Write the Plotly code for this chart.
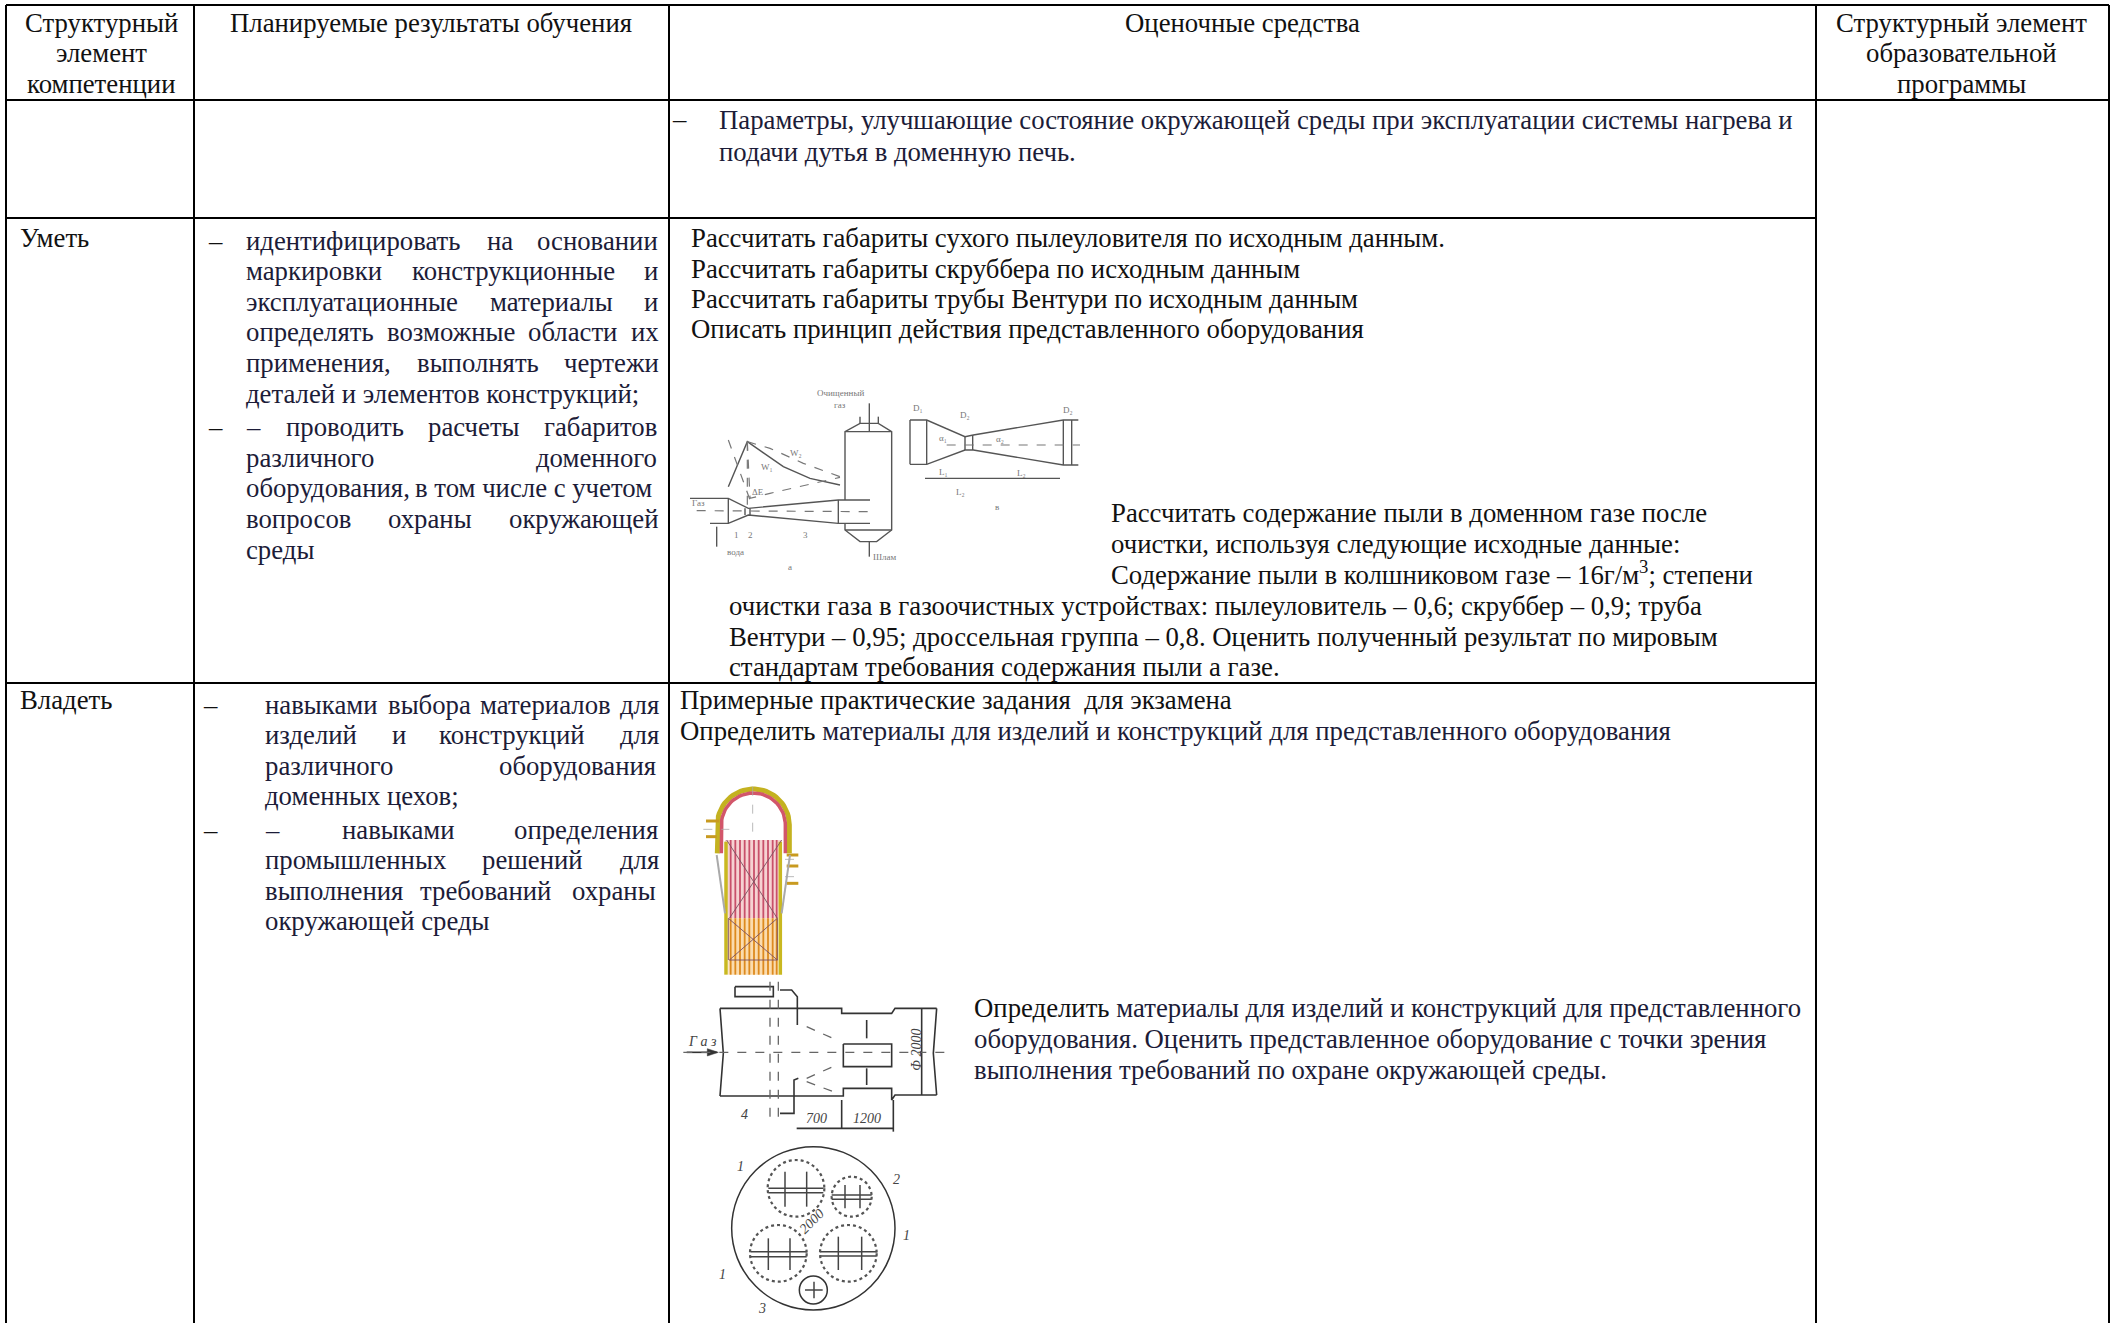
import plotly.graph_objects as go
import numpy as np

FONT = "Liberation Serif"
SIZE = 26.75
BLACK = "#111111"
NAVY = "#1c1c38"

# ---- table grid -------------------------------------------------------
COL_X = [6, 194, 669, 1816, 2109]
ROW_Y = [5, 100, 218, 683, 1323]

# ---- header -----------------------------------------------------------
HEAD_X = [101, 101, 101, 431, 1242, 1961, 1961, 1961]
HEAD_Y = [23, 53, 84, 23, 23, 23, 53, 84]
HEAD_T = ["Структурный", "элемент", "компетенции",
          "Планируемые результаты обучения", "Оценочные средства",
          "Структурный элемент", "образовательной", "программы"]

# ---- left aligned body words / lines ----------------------------------
BODY = [
    (20, 238, "Уметь", BLACK), (20, 700, "Владеть", BLACK),
    (672, 119, "–", BLACK),
    (719, 120, "Параметры, улучшающие состояние окружающей среды при эксплуатации системы нагрева и", NAVY),
    (719, 152, "подачи дутья в доменную печь.", NAVY),
    (691, 238, "Рассчитать габариты сухого пылеуловителя по исходным данным.", BLACK),
    (691, 269, "Рассчитать габариты скруббера по исходным данным", BLACK),
    (691, 299, "Рассчитать габариты трубы Вентури по исходным данным", BLACK),
    (691, 329, "Описать принцип действия представленного оборудования", BLACK),
    (1111, 513, "Рассчитать содержание пыли в доменном газе после", BLACK),
    (1111, 544, "очистки, используя следующие исходные данные:", BLACK),
    (1111, 573, "Содержание пыли в колшниковом газе – 16г/м<sup>3</sup>; степени", BLACK),
    (729, 606, "очистки газа в газоочистных устройствах: пылеуловитель – 0,6; скруббер – 0,9; труба", BLACK),
    (729, 637, "Вентури – 0,95; дроссельная группа – 0,8. Оценить полученный результат по мировым", BLACK),
    (729, 667, "стандартам требования содержания пыли а газе.", BLACK),
    (680, 700, "Примерные практические задания  для экзамена", BLACK),
    (680, 731, "Определить <span style='color:#1c1c38'>материалы для изделий и конструкций для представленного оборудования</span>", BLACK),
    (974, 1008, "Определить <span style='color:#1c1c38'>материалы для изделий и конструкций для представленного</span>", BLACK),
    (974, 1039, "оборудования. Оценить представленное оборудование с точки зрения", NAVY),
    (974, 1070, "выполнения требований по охране окружающей среды.", NAVY),
    # column 2, row "Уметь" (justified words)
    (208, 241, "–", BLACK),
    (246, 241, "идентифицировать", NAVY), (487, 241, "на", NAVY), (537, 241, "основании", NAVY),
    (246, 271, "маркировки", NAVY), (412, 271, "конструкционные", NAVY), (644, 271, "и", NAVY),
    (246, 302, "эксплуатационные", NAVY), (490, 302, "материалы", NAVY), (644, 302, "и", NAVY),
    (246, 332, "определять", NAVY), (387, 332, "возможные", NAVY), (528, 332, "области", NAVY), (631, 332, "их", NAVY),
    (246, 363, "применения,", NAVY), (417, 363, "выполнять", NAVY), (564, 363, "чертежи", NAVY),
    (246, 394, "деталей и элементов конструкций;", NAVY),
    (208, 427, "–", BLACK),
    (246, 427, "–", NAVY), (286, 427, "проводить", NAVY), (428, 427, "расчеты", NAVY), (544, 427, "габаритов", NAVY),
    (246, 458, "различного", NAVY), (536, 458, "доменного", NAVY),
    (246, 488, "оборудования,", NAVY), (415.5, 488, "в том числе с учетом", NAVY),
    (246, 519, "вопросов", NAVY), (388, 519, "охраны", NAVY), (509, 519, "окружающей", NAVY),
    (246, 550, "среды", NAVY),
    # column 2, row "Владеть"
    (203, 705, "–", BLACK),
    (265, 705, "навыками", NAVY), (388, 705, "выбора", NAVY), (480, 705, "материалов", NAVY), (620, 705, "для", NAVY),
    (265, 735, "изделий", NAVY), (392, 735, "и", NAVY), (439, 735, "конструкций", NAVY), (620, 735, "для", NAVY),
    (265, 766, "различного", NAVY), (499, 766, "оборудования", NAVY),
    (265, 796, "доменных цехов;", NAVY),
    (203, 830, "–", BLACK),
    (265, 830, "–", NAVY), (342, 830, "навыками", NAVY), (514, 830, "определения", NAVY),
    (265, 860, "промышленных", NAVY), (482, 860, "решений", NAVY), (620, 860, "для", NAVY),
    (265, 891, "выполнения", NAVY), (420, 891, "требований", NAVY), (572, 891, "охраны", NAVY),
    (265, 921, "окружающей среды", NAVY),
]
BODY_SHIFT = -1.5

# ---- sketch 1: scrubber and Venturi tube (crop coords of 670,360, x3) --
SK1_LINES = [
    [(60, 415), (175, 415), (235, 445), (505, 420), (600, 420)],
    [(120, 490), (175, 490), (235, 465), (505, 490), (600, 490)],
    [(175, 415), (175, 490)], [(225, 445), (225, 465)], [(240, 445), (240, 465)],
    [(505, 420), (505, 490)],
    [(525, 420), (525, 215), (570, 190), (625, 190), (665, 215), (665, 510), (620, 545), (570, 545), (525, 510), (525, 490)],
    [(525, 215), (665, 215)], [(525, 510), (665, 510)],
    [(598, 130), (598, 215)], [(598, 545), (598, 590)],
    [(570, 190), (570, 170)], [(625, 190), (625, 170)],
    [(175, 380), (232, 245), (275, 275), (340, 320), (420, 355), (510, 375)],
    [(140, 500), (140, 560)],
    [(720, 180), (770, 180), (885, 230), (910, 225), (1180, 180), (1225, 180)],
    [(720, 313), (770, 313), (885, 270), (910, 270), (1180, 315), (1225, 315)],
    [(720, 180), (720, 313)], [(770, 180), (770, 313)], [(885, 230), (885, 270)],
    [(908, 225), (908, 270)], [(1180, 180), (1180, 315)], [(1205, 180), (1205, 315)],
    [(765, 355), (1170, 355)],
]
SK1_DASH = [
    [(80, 452), (600, 455)],
    [(232, 245), (300, 265), (400, 310), (510, 350)],
    [(232, 245), (240, 415), (300, 400), (510, 352)],
    [(175, 240), (240, 420)], [(232, 245), (232, 445)],
    [(830, 255), (1230, 255)],
]
SK1_TEXT = [(85, 430, "Газ"), (510, 100, "Очищенный"), (510, 135, "газ"),
            (195, 575, "вода"), (645, 590, "Шлам"), (378, 280, "W₂"), (290, 320, "W₁"),
            (265, 395, "ΔE"), (200, 525, "1"), (242, 525, "2"), (405, 525, "3"),
            (360, 620, "а"), (980, 440, "в"), (745, 145, "D₁"), (885, 165, "D₂"),
            (1195, 150, "D₂"), (820, 235, "α₁"), (990, 238, "α₂"), (820, 335, "L₁"),
            (1055, 340, "L₂"), (872, 395, "L₂")]

# ---- sketch 2: coloured stove (crop coords of 670,770, x3) -------------
ST_PINK_BOX = [(165, 210), (335, 210), (325, 445), (175, 445)]
ST_ORANGE_BOX = [(175, 445), (325, 445), (325, 614), (175, 614)]
ST_STRIPE_X = [182, 196, 210, 224, 238, 252, 266, 280, 294, 308, 320]
ST_STRIPE_TOP = [210, 445]
ST_STRIPE_LOW = [445, 614]
ST_WALL_L = [(168, 215), (168, 614)]
ST_WALL_R = [(331, 215), (331, 614)]
ST_CROSS = [[(170, 210), (322, 445)], [(335, 210), (178, 445)],
            [(175, 445), (322, 570)], [(322, 445), (178, 570)],
            [(178, 570), (322, 570)], [(175, 445), (175, 570)], [(322, 445), (322, 570)]]
ST_DOME_CENTER = (250, 165)
ST_DOME_R_OUT = 108
ST_DOME_R_IN = 96
ST_DOME_FOOT = 250
ST_NOZZLES = [[(108, 153), (148, 153)], [(108, 200), (140, 200)], [(350, 255), (385, 255)],
              [(350, 288), (385, 288)], [(350, 340), (385, 340)]]
ST_CONE = [[(140, 255), (165, 430)], [(360, 255), (335, 430)]]
ST_CENTER = [[(248, 50), (248, 210)], [(100, 178), (178, 178)], [(345, 268), (392, 268)], [(345, 320), (392, 320)]]

# ---- sketch 3: burners section + plan (crop coords of 670,970, x3) -----
SK3_LINES = [
    [(150, 115), (515, 115), (515, 130), (665, 130), (675, 115), (800, 115)],
    [(150, 378), (520, 378), (520, 355), (665, 355), (665, 390), (675, 375), (800, 375)],
    [(150, 115), (160, 250), (150, 378)], [(800, 115), (790, 250), (800, 375)],
    [(520, 222), (665, 222), (665, 290), (520, 290), (520, 222)],
    [(195, 50), (310, 50), (310, 80), (195, 80), (195, 50)],
    [(330, 60), (365, 60), (382, 80), (382, 165)], [(385, 325), (372, 330), (372, 430), (330, 430)],
    [(755, 115), (755, 375)], [(380, 475), (670, 475)], [(515, 390), (515, 475)], [(670, 390), (670, 485)],
    [(50, 247), (140, 247)], [(590, 150), (590, 205)], [(590, 295), (590, 345)],
]
SK3_ARROW = [(112, 236), (145, 247), (112, 258)]
SK3_DASH = [[(40, 247), (830, 247)], [(300, 35), (300, 440)], [(325, 35), (325, 440)],
            [(410, 170), (500, 210)], [(410, 325), (500, 285)], [(410, 335), (490, 365)]]
SK3_TEXT = [(97, 215, "<i>Г а з</i>", 0), (737, 240, "<i>Φ 2000</i>", -90), (440, 445, "<i>700</i>", 0),
            (590, 445, "<i>1200</i>", 0), (222, 432, "<i>4</i>", 0), (210, 590, "<i>1</i>", 0), (680, 628, "<i>2</i>", 0),
            (708, 795, "<i>1</i>", 0), (158, 912, "<i>1</i>", 0), (275, 1015, "<i>3</i>", 0), (425, 755, "<i>2000</i>", -45)]
PLAN_CX = [430, 378, 545, 325, 535, 430]
PLAN_CY = [775, 655, 680, 850, 850, 960]
PLAN_R = [245, 85, 60, 85, 85, 42]
PLAN_BARS = [[(295, 655), (460, 655)], [(295, 668), (460, 668)], [(485, 675), (605, 675)], [(485, 688), (605, 688)],
             [(242, 845), (410, 845)], [(242, 860), (410, 860)], [(450, 845), (620, 845)], [(450, 858), (620, 858)],
             [(345, 605), (345, 710)], [(410, 605), (410, 710)], [(525, 645), (525, 715)], [(570, 645), (570, 715)],
             [(295, 805), (295, 900)], [(360, 805), (360, 900)], [(505, 800), (505, 900)], [(575, 800), (575, 900)],
             [(432, 935), (432, 985)], [(405, 960), (458, 960)]]


def crop(points, ox, oy):
    return [ox + p[0] / 3 for p in points], [oy + p[1] / 3 for p in points]


def dome(r):
    a = np.linspace(np.pi, 0, 40)
    cx, cy = ST_DOME_CENTER
    pts = [(cx + r * np.cos(t), cy - r * np.sin(t)) for t in a]
    return [(cx - r, ST_DOME_FOOT)] + pts + [(cx + r, ST_DOME_FOOT)]


fig = go.Figure()


def poly(points, ox, oy, color="#555555", width=1.2, dash="solid", fill=None, fillcolor=None):
    xs, ys = crop(points, ox, oy)
    fig.add_trace(go.Scatter(x=xs, y=ys, mode="lines", fill=fill, fillcolor=fillcolor,
                             line=dict(color=color, width=width, dash=dash), hoverinfo="skip"))


# sketch 1
for p in SK1_LINES:
    poly(p, 670, 360, "#555555", 1.4)
for p in SK1_DASH:
    poly(p, 670, 360, "#777777", 1.2, "dash")
for x, y, t in SK1_TEXT:
    fig.add_annotation(x=670 + x / 3, y=360 + y / 3, text=t, showarrow=False,
                       font=dict(family=FONT, size=9, color="#777777"))

# sketch 2
poly(ST_PINK_BOX + ST_PINK_BOX[:1], 670, 770, "rgba(0,0,0,0)", 0, fill="toself", fillcolor="#f6d2d2")
poly(ST_ORANGE_BOX + ST_ORANGE_BOX[:1], 670, 770, "rgba(0,0,0,0)", 0, fill="toself", fillcolor="#fbdcae")
for x in ST_STRIPE_X:
    poly([(x, ST_STRIPE_TOP[0]), (x, ST_STRIPE_TOP[1])], 670, 770, "#c8506a", 1.8)
    poly([(x, ST_STRIPE_LOW[0]), (x, ST_STRIPE_LOW[1])], 670, 770, "#dd8a1e", 1.8)
poly(ST_WALL_L, 670, 770, "#c9b820", 3.5)
poly(ST_WALL_R, 670, 770, "#c9b820", 3.5)
poly(dome(ST_DOME_R_OUT), 670, 770, "#c4b220", 5)
poly(dome(ST_DOME_R_IN), 670, 770, "#d2566a", 3.5)
for p in ST_NOZZLES:
    poly(p, 670, 770, "#c89a20", 3)
for p in ST_CONE:
    poly(p, 670, 770, "#aaaaaa", 2)
for p in ST_CROSS:
    poly(p, 670, 770, "#7a5060", 0.9)
for p in ST_CENTER:
    poly(p, 670, 770, "#aaaaaa", 0.8, "dash")

# sketch 3
for p in SK3_LINES:
    poly(p, 670, 970, "#333333", 1.6)
poly(SK3_ARROW + SK3_ARROW[:1], 670, 970, "#333333", 0.5, fill="toself", fillcolor="#333333")
for p in SK3_DASH:
    poly(p, 670, 970, "#666666", 1.3, "dash")
for p in PLAN_BARS:
    poly(p, 670, 970, "#444444", 1.5)
for x, y, t, a in SK3_TEXT:
    fig.add_annotation(x=670 + x / 3, y=970 + y / 3, text=t, textangle=a, showarrow=False,
                       font=dict(family=FONT, size=14, color="#444444"))
for i, (cx, cy, r) in enumerate(zip(PLAN_CX, PLAN_CY, PLAN_R)):
    fig.add_shape(type="circle", x0=670 + (cx - r) / 3, x1=670 + (cx + r) / 3,
                  y0=970 + (cy - r) / 3, y1=970 + (cy + r) / 3,
                  line=dict(color="#333333" if i in (0, 5) else "#555555",
                            width=1.5 if i in (0, 5) else 2.2, dash="solid" if i in (0, 5) else "dot"))

# grid
GRID = [
    (COL_X[0], COL_X[0], ROW_Y[0], ROW_Y[4]),
    (COL_X[1], COL_X[1], ROW_Y[0], ROW_Y[4]),
    (COL_X[2], COL_X[2], ROW_Y[0], ROW_Y[4]),
    (COL_X[3], COL_X[3], ROW_Y[0], ROW_Y[4]),
    (COL_X[4], COL_X[4], ROW_Y[0], ROW_Y[4]),
    (COL_X[0], COL_X[4], ROW_Y[0], ROW_Y[0]),
    (COL_X[0], COL_X[4], ROW_Y[1], ROW_Y[1]),
    (COL_X[0], COL_X[3], ROW_Y[2], ROW_Y[2]),
    (COL_X[0], COL_X[3], ROW_Y[3], ROW_Y[3]),
]
for x0, x1, y0, y1 in GRID:
    fig.add_shape(type="line", x0=x0, x1=x1, y0=y0, y1=y1, line=dict(color="#000000", width=2))

for x, y, t in zip(HEAD_X, HEAD_Y, HEAD_T):
    fig.add_annotation(x=x, y=y, text=t, showarrow=False, xanchor="center", yanchor="middle",
                       font=dict(family=FONT, size=SIZE, color=BLACK))
for x, y, t, c in BODY:
    fig.add_annotation(x=x + BODY_SHIFT, y=y, text=t, showarrow=False, xanchor="left", yanchor="middle",
                       font=dict(family=FONT, size=SIZE, color=c), borderpad=0)

fig.update_layout(
    width=2116, height=1323, margin=dict(l=0, r=0, t=0, b=0),
    paper_bgcolor="white", plot_bgcolor="white", showlegend=False,
    xaxis=dict(range=[0, 2116], visible=False, fixedrange=True),
    yaxis=dict(range=[1323, 0], visible=False, fixedrange=True),
)
fig.write_html("out.html", post_script="document.body.style.margin='0';document.body.style.overflow='hidden';",
               config={"displayModeBar": False})
